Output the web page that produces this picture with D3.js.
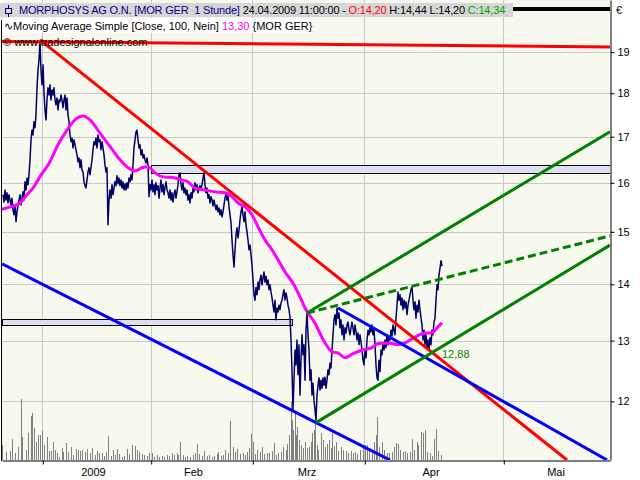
<!DOCTYPE html>
<html><head><meta charset="utf-8">
<script src="https://cdn.jsdelivr.net/npm/d3@7"></script>
<style>
body{margin:0;background:#fff}
svg{display:block}
text{font-family:"Liberation Sans",Arial,sans-serif;font-size:11px}
</style>
</head><body>
<svg id="c" width="640" height="480"></svg>
<script>
// ---------- DATA ----------
// sample index t (≈0.2 trading day per step); month boundaries on that index
const monthTickT = [40.3, 148.7, 250.3, 362.3, 501.3];
const monthLabels = ["2009", "Feb", "Mrz", "Apr", "Mai"];
const monthLabelT = [91.5, 191.5, 305, 429, 554];
const priceTicks = [12, 13, 14, 15, 16, 17, 18, 19];

// price series (closes), first sample at t = 1, one sample per index step
const closeStartT = 1;
const close = [
15.75,15.60,15.85,15.64,15.79,15.58,15.75,15.64,15.54,15.68,
15.44,15.34,15.54,15.20,15.40,15.54,15.64,15.75,15.54,15.68,
15.81,15.64,16.02,15.85,16.10,15.96,16.17,16.49,16.93,17.15,
17.04,17.34,17.20,17.50,18.13,18.56,18.81,19.26,18.56,18.20,
18.69,18.03,17.61,17.38,17.84,18.13,17.96,18.20,17.84,18.08,
17.96,18.13,17.84,17.73,17.89,17.61,17.84,17.80,17.96,17.84,
17.66,17.84,17.96,17.61,17.89,17.50,17.34,17.04,16.89,16.97,
16.75,16.93,16.82,16.71,16.60,16.45,16.53,16.32,16.49,16.27,
16.23,16.02,15.94,15.89,16.06,16.23,16.32,16.17,16.32,16.49,
16.71,16.89,16.82,16.97,16.75,17.04,16.89,16.93,16.71,16.89,
16.75,16.60,16.38,16.23,16.32,15.14,15.64,15.85,15.68,15.96,
15.75,15.89,16.02,15.94,16.15,15.98,16.10,15.94,16.06,15.89,
16.02,15.85,15.98,15.85,16.00,15.89,16.10,16.02,16.17,16.06,
16.38,16.75,16.93,17.11,17.15,16.93,16.75,16.82,16.60,16.71,
16.53,16.60,16.49,16.42,16.53,16.38,15.71,15.96,15.85,16.06,
15.81,15.96,15.75,16.00,15.85,15.94,15.68,15.89,16.06,15.81,
15.96,15.75,15.91,16.02,15.85,15.79,15.68,15.85,15.64,15.79,
15.60,15.75,15.85,15.68,15.81,15.96,16.17,16.21,15.96,15.85,
16.00,15.79,15.89,15.75,15.85,15.64,15.75,15.58,15.79,15.68,
15.89,15.81,16.00,15.85,15.96,15.79,15.89,15.94,15.85,15.96,
16.10,16.21,15.96,15.79,15.89,15.68,15.75,15.58,15.71,15.64,
15.52,15.64,15.54,15.44,15.54,15.40,15.48,15.34,15.44,15.30,
15.40,15.54,15.68,15.79,15.64,15.73,15.50,15.34,15.18,14.84,
14.55,14.32,14.65,14.94,15.08,14.88,15.04,15.24,15.40,15.50,
15.34,15.20,15.40,15.14,15.00,14.84,14.65,14.74,14.55,14.36,
14.08,13.81,13.71,13.94,13.81,14.04,13.90,14.08,14.17,13.99,
14.12,14.23,14.04,14.15,13.99,14.08,13.90,13.99,13.86,13.75,
13.62,13.50,13.71,13.36,13.57,13.50,13.62,13.54,13.66,13.71,
13.81,13.90,13.71,13.84,13.75,13.62,13.54,13.41,13.01,12.51,
11.87,12.34,12.84,12.59,13.01,12.43,12.93,12.10,12.67,13.10,
12.76,12.93,12.34,13.18,13.48,13.10,12.84,12.34,12.51,12.10,
12.29,12.02,11.87,11.71,12.10,12.26,12.38,12.18,12.34,12.21,
12.38,12.26,12.39,12.21,12.34,12.51,12.43,12.62,12.54,12.84,
13.10,13.36,13.45,13.27,13.57,13.39,13.48,13.22,13.36,13.10,
13.27,13.01,13.22,13.13,13.27,13.32,13.18,13.10,13.22,13.32,
13.22,13.10,13.27,13.15,13.01,13.13,12.93,13.10,12.98,12.84,
12.67,12.59,12.84,12.71,13.01,13.18,13.10,13.22,13.15,13.27,
13.10,13.18,12.93,12.59,12.38,12.34,12.67,12.48,12.84,12.76,
12.96,12.84,13.01,12.88,13.10,12.93,13.05,13.01,13.18,13.08,
13.27,13.18,13.10,13.39,13.62,13.86,13.71,13.81,13.62,13.75,
13.54,13.71,13.57,13.68,13.45,13.62,13.71,13.81,13.90,13.95,
13.71,13.54,13.68,13.39,13.62,13.50,13.71,13.54,13.39,13.27,
13.01,13.18,12.93,13.10,12.88,13.01,12.84,13.05,12.93,13.18,
13.10,13.32,13.39,13.71,13.99,13.90,14.17,14.30,14.44,14.34
];

// Moving Average Simple (Close, 100)
const maT = [-2,8,18,25,31,38,48,56,65,73,81,88,98,108,118,126,133,140,146,153,160,173,180,186,193,203,213,223,230,236,243,250,256,263,270,276,283,291,298,303,313,323,330,336,343,350,360,370,376,386,396,403,413,423,430,435,440];
const maVal = [15.44,15.50,15.58,15.75,15.89,16.13,16.45,16.82,17.15,17.38,17.47,17.38,17.08,16.78,16.49,16.32,16.25,16.32,16.34,16.21,16.13,16.10,16.06,16.02,15.89,15.85,15.81,15.79,15.71,15.58,15.50,15.34,15.10,14.84,14.65,14.46,14.23,14.02,13.77,13.57,13.30,12.96,12.81,12.79,12.71,12.77,12.84,12.88,12.95,12.96,12.93,12.96,13.06,13.13,13.13,13.22,13.31];

// volume (thousand shares)
const volT = [0,4,8,10.3,13,16.3,18.7,20.3,24,26.3,28.7,30.3,32,34,36.3,38,40.3,42.3,44.7,47,49,50.7,53,54.7,57.3,59.7,61.3,64,66.3,68.7,71.3,74,76.3,78,80.3,83,85.3,88,89.7,93,95.3,97.3,99.7,102,104,106.3,108.7,110.7,113,114.7,117.3,119.7,122,124.7,127.3,130.3,133,134.7,137.3,139.7,142,144.7,147,149.7,152,154.7,157.3,159.7,162,164.7,167.3,169.7,172,174.7,176.3,178.3,180.7,183,185.3,188,190.7,193,194.7,197.3,199.7,202,204.7,207.3,209.7,212,214.7,216.3,218.7,221.3,223.3,225.7,228.3,230.7,233,235.3,238,240.7,243,245.3,247.3,248.7,250.7,253,255.3,258,259.7,262,264.7,267.3,269.7,272,274,276.3,278.7,281.3,283.7,285.3,287.3,288.7,290,291.3,292.7,294,295.3,297,298.7,300.7,303,304.7,306.7,308.7,310,312,313.3,314.7,316.3,318.7,320.7,323,325.3,327.3,328.7,330.3,332,334,336.3,338.7,341.3,344,346.3,348.7,350.7,353,355.3,358,360.7,363,364.7,367.3,369.7,372,374,375.3,377.3,379.7,382,384.7,387.3,389.7,392,394,396.3,398,400.7,403,405.3,408,410.3,412.3,414.7,416.3,418.7,420.7,423,425.3,428,429.7,432,434,436.3,438.7];
const volume = [15,8,9,21,7,13,61,23,10,27,44,47,32,18,25,25,29,15,23,9,9,18,10,7,3,12,8,17,8,13,5,11,10,9,10,8,11,7,12,5,9,7,7,4,8,24,4,10,5,11,6,3,4,11,6,15,14,10,8,6,5,4,7,7,3,5,3,4,3,5,4,7,5,7,5,18,5,3,4,3,5,7,16,6,4,9,4,5,3,4,6,8,4,5,10,7,39,13,8,11,6,7,5,8,12,26,18,6,10,8,13,6,7,7,9,17,5,7,8,13,10,16,25,58,40,30,47,25,33,20,15,12,18,12,13,18,27,30,47,15,10,27,20,13,16,20,12,27,14,18,9,13,10,9,7,9,7,8,6,10,12,15,15,10,8,18,25,43,13,18,10,7,7,8,13,17,16,10,8,9,7,8,21,10,18,15,28,27,30,8,7,4,21,31,9,5];

// drawn trend lines: [t0, p0, t1, p1]
const trendLines = [
  {pts:[0,19.27,608,19.13], color:"#ff0000", dash:null},
  {pts:[38,19.31,565,11.11], color:"#ff0000", dash:null},
  {pts:[0,14.38,388,11.11], color:"#0000ff", dash:null},
  {pts:[336,13.57,605,11.11], color:"#0000ff", dash:null},
  {pts:[305,13.48,608,17.11], color:"#008000", dash:null},
  {pts:[305,13.48,608,14.92], color:"#008000", dash:"8,4"},
  {pts:[314,11.67,608,14.74], color:"#008000", dash:null}
];
// horizontal zones: [t0, t1, pTop, pBottom]
const zones = [
  [148.7, 608, 16.37, 16.20],
  [0, 289.7, 13.37, 13.27]
];
const markValue = 12.88, markT = 440;

// ---------- CHART ----------
const svg = d3.select("#c");
const x = d3.scaleLinear().domain([0, 608]).range([2, 610]);
const y = d3.scaleLog().domain([11.11, 20.35]).range([460, 0]);
const v = d3.scaleLinear().domain([0, 100]).range([460, 360]);

svg.append("rect").attr("width",640).attr("height",480).attr("fill","#fff");
svg.append("rect").attr("x",2).attr("y",0).attr("width",608).attr("height",460).attr("fill","#f7f9ee");

svg.append("defs").append("clipPath").attr("id","clip")
  .append("rect").attr("x",2).attr("y",0).attr("width",608).attr("height",460);

// grid
const grid = svg.append("g").attr("stroke","#c8c8c8").attr("stroke-width",1);
grid.selectAll("line.h").data(priceTicks).join("line")
  .attr("x1",2).attr("x2",610)
  .attr("y1",d=>Math.round(y(d))+0.5).attr("y2",d=>Math.round(y(d))+0.5);
grid.selectAll("line.v").data(monthTickT).join("line")
  .attr("y1",0).attr("y2",460)
  .attr("x1",d=>Math.round(x(d))+0.5).attr("x2",d=>Math.round(x(d))+0.5);

const plot = svg.append("g").attr("clip-path","url(#clip)");

// volume
plot.append("g").selectAll("line").data(volume).join("line")
  .attr("x1",(d,i)=>Math.round(x(volT[i]))+0.5).attr("x2",(d,i)=>Math.round(x(volT[i]))+0.5)
  .attr("y1",v(0)).attr("y2",d=>v(d))
  .attr("stroke","#808080").attr("stroke-width",1);

// zones
plot.append("g").selectAll("rect").data(zones).join("rect")
  .attr("x",d=>Math.round(x(d[0]))+0.5)
  .attr("y",d=>Math.round(y(d[2]))+0.5)
  .attr("width",d=>Math.round(x(d[1]))-Math.round(x(d[0])))
  .attr("height",d=>Math.round(y(d[3]))-Math.round(y(d[2])))
  .attr("fill","#dcdfef").attr("stroke","#000").attr("stroke-width",1);

// price
const priceLine = d3.line().x((d,i)=>x(closeStartT+i)).y(d=>y(d));
plot.append("path").attr("d",priceLine(close))
  .attr("fill","none").attr("stroke","#000066").attr("stroke-width",1.5).attr("stroke-linejoin","round");

// moving average
const maLine = d3.line().x(d=>x(d[0])).y(d=>y(d[1])).curve(d3.curveMonotoneX);
plot.append("path").attr("d",maLine(d3.zip(maT,maVal)))
  .attr("fill","none").attr("stroke","#ff00ff").attr("stroke-width",3);

// trend lines
const tl = d3.line().x(d=>x(d[0])).y(d=>y(d[1]));
trendLines.forEach(l=>{
  plot.append("path").attr("d",tl([[l.pts[0],l.pts[1]],[l.pts[2],l.pts[3]]]))
    .attr("fill","none").attr("stroke",l.color).attr("stroke-width",3)
    .attr("stroke-dasharray",l.dash);
});

// value label
svg.append("text").attr("x",x(markT)).attr("y",y(markValue)+10)
  .attr("fill","#008000").attr("font-size","12px").text(d3.format(".2f")(markValue).replace(".",","));

// frame
svg.append("line").attr("x1",1.5).attr("x2",1.5).attr("y1",20).attr("y2",461).attr("stroke","#000");

// right axis
const ay = svg.append("g").attr("transform","translate(610.5,0)")
  .call(d3.axisRight(y).tickValues(priceTicks).tickFormat(d3.format("d")).tickSize(4).tickSizeOuter(0).tickPadding(3));
ay.select(".domain").attr("stroke","#000");
ay.selectAll("text").attr("font-size","11px").attr("font-family","Liberation Sans, Arial, sans-serif").attr("fill","#000");

// bottom axis
const ax = svg.append("g").attr("transform","translate(0,460.5)")
  .call(d3.axisBottom(x).tickValues(monthTickT).tickFormat("").tickSize(4).tickSizeOuter(0));
ax.select(".domain").attr("stroke","#000");
ax.selectAll(".tick line").attr("transform","translate(0.5,0)");
svg.append("g").selectAll("text").data(monthLabels).join("text")
  .attr("x",(d,i)=>x(monthLabelT[i])).attr("y",476).attr("text-anchor","middle").text(d=>d);

// header
svg.append("rect").attr("x",0).attr("y",3).attr("width",513).attr("height",14).attr("fill","#d6d6d6");
svg.append("rect").attr("x",513).attr("y",7).attr("width",97).attr("height",4).attr("fill","#000");
svg.append("rect").attr("x",2).attr("y",18).attr("width",310).attr("height",15).attr("fill","#fff");
const ic = svg.append("g").attr("stroke","#000080").attr("fill","none");
ic.append("line").attr("x1",8.5).attr("x2",8.5).attr("y1",5).attr("y2",17);
ic.append("rect").attr("x",5.5).attr("y",8.5).attr("width",6).attr("height",5).attr("fill","#d6d6d6");

const t1 = svg.append("text").attr("x",19).attr("y",14).attr("letter-spacing","-0.18px");
t1.append("tspan").attr("fill","#000080").text("MORPHOSYS AG O.N. [MOR GER\u00a0 1 Stunde]");
t1.append("tspan").attr("fill","#000").text(" 24.04.2009 11:00:00 - ");
t1.append("tspan").attr("fill","#ff0000").text("O:14,20");
t1.append("tspan").attr("fill","#000").text(" H:14,44 L:14,20 ");
t1.append("tspan").attr("fill","#00a000").text("C:14,34");

const t2 = svg.append("text").attr("x",4).attr("y",30);
t2.append("tspan").attr("fill","#000").text("\u223FMoving Average Simple [Close, 100, Nein] ");
t2.append("tspan").attr("fill","#ff00ff").text("13,30");
t2.append("tspan").attr("fill","#000").text(" {MOR GER}");

svg.append("text").attr("x",3).attr("y",46).attr("fill","#000").text("\u00a9 www.tradesignalonline.com");
svg.append("text").attr("x",616).attr("y",14).attr("fill","#000").text("\u20ac");
</script>
</body></html>
